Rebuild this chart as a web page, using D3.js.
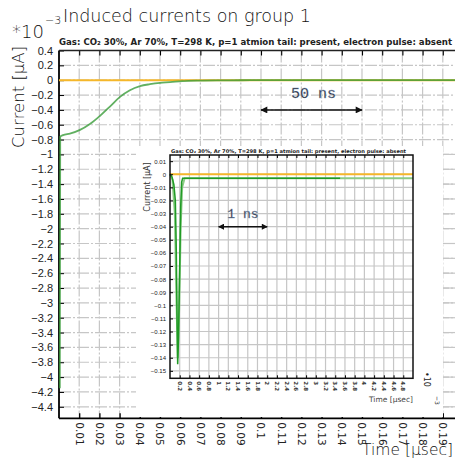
<!DOCTYPE html>
<html>
<head>
<meta charset="utf-8">
<script src="https://cdn.jsdelivr.net/npm/d3@7"></script>
<style>
  body { margin: 0; background: #fff; }
  svg { display: block; font-family: "DejaVu Sans", sans-serif; }
  .grid line { stroke: #c6c6c6; stroke-width: 1.2; }
  .mgrid line { stroke-dasharray: 12,2,2,2; }
</style>
</head>
<body>
<script>
// main plot (time in usec, current in 1e-3 uA)
var mainXTicks = [0.01, 0.02, 0.03, 0.04, 0.05, 0.06, 0.07, 0.08, 0.09, 0.1,
                  0.11, 0.12, 0.13, 0.14, 0.15, 0.16, 0.17, 0.18, 0.19];
var mainYTicks = [0.4, 0.2, 0, -0.2, -0.4, -0.6, -0.8, -1, -1.2, -1.4, -1.6, -1.8, -2,
                  -2.2, -2.4, -2.6, -2.8, -3, -3.2, -3.4, -3.6, -3.8, -4, -4.2, -4.4];
var mainTime    = [0.0004, 0.0006, 0.002, 0.0054, 0.0104, 0.0153, 0.0203, 0.0252, 0.0302, 0.0351,
                   0.0401, 0.045, 0.05, 0.055, 0.061, 0.07, 0.08, 0.09, 0.1, 0.2];
var mainCurrent = [-4.15, -0.76, -0.74, -0.72, -0.67, -0.59, -0.48, -0.355, -0.225, -0.135,
                   -0.08, -0.054, -0.036, -0.027, -0.013, -0.005, -0.002, -0.001, 0, 0];
var ionTime = [0, 0.2], ionCurrent = [0, 0];

// inset (time in 1e-3 usec, current in uA)
var insetXTicks = [0.2, 0.4, 0.6, 0.8, 1, 1.2, 1.4, 1.6, 1.8, 2, 2.2, 2.4, 2.6, 2.8, 3,
                   3.2, 3.4, 3.6, 3.8, 4, 4.2, 4.4, 4.6, 4.8];
var insetYTicks = [0.01, 0, -0.01, -0.02, -0.03, -0.04, -0.05, -0.06, -0.07, -0.08,
                   -0.09, -0.1, -0.11, -0.12, -0.13, -0.14, -0.15];
var insTime    = [0, 0.04, 0.08, 0.11, 0.13, 0.145, 0.158, 0.175, 0.2, 0.22, 0.24, 0.26, 3.5];
var insCurrent = [0, -0.002, -0.008, -0.02, -0.06, -0.11, -0.145, -0.125, -0.07, -0.025, -0.006, -0.003, -0.003];
var insTime2    = [0, 0.05, 0.1, 0.13, 0.16, 0.19, 0.22, 0.25, 0.3, 5];
var insCurrent2 = [0, -0.004, -0.03, -0.09, -0.14, -0.1, -0.04, -0.01, -0.003, -0.003];
var insIonTime = [0, 5], insIonCurrent = [0, 0];

var subtitle = "Gas: CO\u2082 30%, Ar 70%, T=298 K, p=1 atmion tail: present, electron pulse: absent";

var svg = d3.select("body").append("svg").attr("width", 455).attr("height", 460);

var defs = svg.append("defs");
defs.append("marker").attr("id", "ah").attr("viewBox", "0 0 10 10")
    .attr("refX", 9).attr("refY", 5).attr("markerWidth", 9).attr("markerHeight", 7)
    .attr("markerUnits", "userSpaceOnUse").attr("orient", "auto-start-reverse")
  .append("path").attr("d", "M0,0L10,5L0,10z").attr("fill", "#111");
defs.append("marker").attr("id", "ahs").attr("viewBox", "0 0 10 10")
    .attr("refX", 9).attr("refY", 5).attr("markerWidth", 8).attr("markerHeight", 6)
    .attr("markerUnits", "userSpaceOnUse").attr("orient", "auto-start-reverse")
  .append("path").attr("d", "M0,0L10,5L0,10z").attr("fill", "#111");

// ---------- main plot ----------
var x = d3.scaleLinear().domain([0, 0.2]).range([59, 463]),
    y = d3.scaleLinear().domain([-4.555, 0.4]).range([418.3, 50.5]);

var grid = svg.append("g").attr("class", "grid mgrid");
grid.selectAll(".v").data(mainXTicks).enter().append("line")
    .attr("x1", x).attr("x2", x).attr("y1", y.range()[1]).attr("y2", y.range()[0]);
grid.selectAll(".h").data(mainYTicks.filter(function(d) { return d !== 0.4; })).enter().append("line")
    .attr("y1", y).attr("y2", y).attr("x1", x.range()[0]).attr("x2", x.range()[1]);

// frame and axes
svg.append("g").attr("transform", "translate(0," + y.range()[0] + ")")
    .call(d3.axisBottom(x).tickValues(mainXTicks).tickSize(-5).tickFormat(""))
    .call(function(g) { g.select(".domain").remove(); g.selectAll("line").attr("stroke-width", 1.3); });
svg.append("g").attr("transform", "translate(0," + y.range()[1] + ")")
    .call(d3.axisTop(x).tickValues(mainXTicks).tickSize(-5).tickFormat(""))
    .call(function(g) { g.select(".domain").remove(); g.selectAll("line").attr("stroke-width", 1.1); });
svg.append("g").attr("transform", "translate(" + x.range()[0] + ",0)")
    .call(d3.axisLeft(y).tickValues(mainYTicks).tickSize(-5).tickPadding(6)
        .tickFormat(function(d) { return d3.format("")(d).replace("-", "\u2212"); }))
    .call(function(g) {
      g.select(".domain").remove();
      g.selectAll("text").attr("font-size", 11).attr("fill", "#222");
    });
svg.append("line").attr("x1", x.range()[0]).attr("x2", x.range()[0])
    .attr("y1", y.range()[1]).attr("y2", y.range()[0]).attr("stroke", "#000").attr("stroke-width", 1.8);
svg.append("line").attr("x1", x.range()[0]).attr("x2", x.range()[1])
    .attr("y1", y.range()[0]).attr("y2", y.range()[0]).attr("stroke", "#000").attr("stroke-width", 1.8);
svg.append("line").attr("x1", x.range()[0]).attr("x2", x.range()[1])
    .attr("y1", y.range()[1]).attr("y2", y.range()[1]).attr("stroke", "#222").attr("stroke-width", 1.6);

var line = d3.line().x(function(d) { return x(d[0]); }).y(function(d) { return y(d[1]); });
svg.append("path").datum(d3.zip(ionTime, ionCurrent)).attr("d", line)
    .attr("fill", "none").attr("stroke", "#f5b72a").attr("stroke-width", 2);
svg.append("path").datum(d3.zip(mainTime, mainCurrent)).attr("d", line.curve(d3.curveMonotoneX))
    .attr("fill", "none").attr("stroke", "#3a9c3a").attr("stroke-opacity", 0.8).attr("stroke-width", 1.8);

svg.append("g").selectAll("text").data(mainXTicks).enter().append("text")
    .attr("transform", function(d) { return "translate(" + x(d) + "," + (y.range()[0] + 4) + ") rotate(90)"; })
    .attr("dy", "0.35em").attr("font-size", 10.5).attr("fill", "#222")
    .text(function(d) { return d; });

// titles
svg.append("text").attr("x", 63).attr("y", 22).attr("font-size", 17.5).attr("font-weight", 200)
    .attr("fill", "#111").text("Induced currents on group 1");
svg.append("text").attr("x", 12).attr("y", 38).attr("font-size", 18).attr("font-weight", 200)
    .attr("fill", "#111").text("*10");
svg.append("text").attr("x", 45).attr("y", 24).attr("font-size", 11).attr("font-weight", 200)
    .attr("fill", "#111").text("\u22123");
svg.append("text").attr("x", 59).attr("y", 45).attr("font-size", 8).attr("font-weight", "bold")
    .attr("textLength", 393).attr("lengthAdjust", "spacingAndGlyphs").attr("fill", "#222").text(subtitle);
svg.append("text").attr("transform", "translate(24,97) rotate(-90)").attr("text-anchor", "middle")
    .attr("font-size", 16.5).attr("font-weight", 200).attr("fill", "#111").text("Current [\u03bcA]");
svg.append("text").attr("x", 453).attr("y", 455).attr("text-anchor", "end")
    .attr("font-size", 15.5).attr("font-weight", 200).attr("fill", "#111").text("Time [\u03bcsec]");

// 50 ns marker
svg.append("line").attr("x1", x(0.1)).attr("x2", x(0.15)).attr("y1", y(-0.4)).attr("y2", y(-0.4))
    .attr("stroke", "#111").attr("stroke-width", 1.5)
    .attr("marker-start", "url(#ah)").attr("marker-end", "url(#ah)");
svg.append("text").attr("x", (x(0.1) + x(0.15)) / 2 + 2).attr("y", y(-0.24))
    .attr("text-anchor", "middle").attr("font-family", "'Liberation Mono', monospace")
    .attr("font-size", 15).attr("fill", "#2a2d3a").attr("stroke", "#8aa0c0").attr("stroke-width", 0.3)
    .text("50 ns");

// ---------- inset ----------
var xi = d3.scaleLinear().domain([0, 5]).range([170, 413]),
    yi = d3.scaleLinear().domain([-0.1557, 0.0147]).range([378.3, 155]);

svg.append("rect").attr("x", 136).attr("y", 146).attr("width", 307).attr("height", 271).attr("fill", "#fff");

var gi = svg.append("g").attr("class", "grid");
gi.selectAll(".v").data(insetXTicks).enter().append("line")
    .attr("x1", xi).attr("x2", xi).attr("y1", yi.range()[1]).attr("y2", yi.range()[0]);
gi.selectAll(".h").data(insetYTicks).enter().append("line")
    .attr("y1", yi).attr("y2", yi).attr("x1", xi.range()[0]).attr("x2", xi.range()[1]);

var linei = d3.line().x(function(d) { return xi(d[0]); }).y(function(d) { return yi(d[1]); });
svg.append("path").datum(d3.zip(insIonTime, insIonCurrent)).attr("d", linei)
    .attr("fill", "none").attr("stroke", "#f5b72a").attr("stroke-width", 1.8);
svg.append("path").datum(d3.zip(insTime2, insCurrent2)).attr("d", linei)
    .attr("fill", "none").attr("stroke", "#8ccb86").attr("stroke-width", 2);
svg.append("path").datum(d3.zip(insTime, insCurrent)).attr("d", linei)
    .attr("fill", "none").attr("stroke", "#1f9a24").attr("stroke-width", 1.5);

svg.append("g").attr("transform", "translate(0," + yi.range()[0] + ")")
    .call(d3.axisBottom(xi).tickValues(insetXTicks).tickSize(-3).tickFormat(""))
    .call(function(g) { g.select(".domain").remove(); });
svg.append("g").attr("transform", "translate(0," + yi.range()[1] + ")")
    .call(d3.axisTop(xi).tickValues(insetXTicks).tickSize(-3).tickFormat(""))
    .call(function(g) { g.select(".domain").remove(); });
svg.append("g").attr("transform", "translate(" + xi.range()[0] + ",0)")
    .call(d3.axisLeft(yi).tickValues(insetYTicks).tickSize(-3).tickPadding(4)
        .tickFormat(function(d) { return d3.format("")(d).replace("-", "\u2212"); }))
    .call(function(g) {
      g.select(".domain").remove();
      g.selectAll("text").attr("font-size", 6).attr("fill", "#222");
    });
svg.append("rect").attr("x", xi.range()[0]).attr("y", yi.range()[1])
    .attr("width", xi.range()[1] - xi.range()[0]).attr("height", yi.range()[0] - yi.range()[1])
    .attr("fill", "none").attr("stroke", "#111").attr("stroke-width", 1.5);

svg.append("g").selectAll("text").data(insetXTicks).enter().append("text")
    .attr("transform", function(d) { return "translate(" + xi(d) + "," + (yi.range()[0] + 3) + ") rotate(90)"; })
    .attr("dy", "0.35em").attr("font-size", 5.5).attr("font-weight", "bold").attr("fill", "#333")
    .text(function(d) { return d; });

svg.append("text").attr("x", 171).attr("y", 153).attr("font-size", 5).attr("font-weight", "bold")
    .attr("textLength", 235).attr("lengthAdjust", "spacingAndGlyphs").attr("fill", "#222").text(subtitle);
svg.append("text").attr("transform", "translate(150,187) rotate(-90)").attr("text-anchor", "middle")
    .attr("font-size", 8).attr("fill", "#333").text("Current [\u03bcA]");
svg.append("text").attr("x", 413).attr("y", 402).attr("text-anchor", "end")
    .attr("font-size", 7.5).attr("fill", "#444").text("Time [\u03bcsec]");
svg.append("text").attr("transform", "translate(424,372) rotate(90)")
    .attr("font-size", 8).attr("fill", "#222").text("\u202210");
svg.append("text").attr("transform", "translate(435,396) rotate(90)")
    .attr("font-size", 6).attr("fill", "#222").text("\u22123");

// main horizontal grid shows again to the right of the inset
svg.append("g").attr("class", "grid mgrid").selectAll("line")
    .data(mainYTicks.filter(function(d) { return y(d) > 146 && y(d) < 416; })).enter().append("line")
    .attr("y1", y).attr("y2", y).attr("x1", 443).attr("x2", 455);

// 1 ns marker
svg.append("line").attr("x1", xi(1)).attr("x2", xi(2)).attr("y1", yi(-0.04)).attr("y2", yi(-0.04))
    .attr("stroke", "#111").attr("stroke-width", 1.4)
    .attr("marker-start", "url(#ahs)").attr("marker-end", "url(#ahs)");
svg.append("text").attr("x", (xi(1) + xi(2)) / 2).attr("y", yi(-0.0335))
    .attr("text-anchor", "middle").attr("font-family", "'Liberation Mono', monospace")
    .attr("font-size", 13).attr("fill", "#2a2d3a").attr("stroke", "#8aa0c0").attr("stroke-width", 0.3)
    .text("1 ns");
</script>
</body>
</html>
